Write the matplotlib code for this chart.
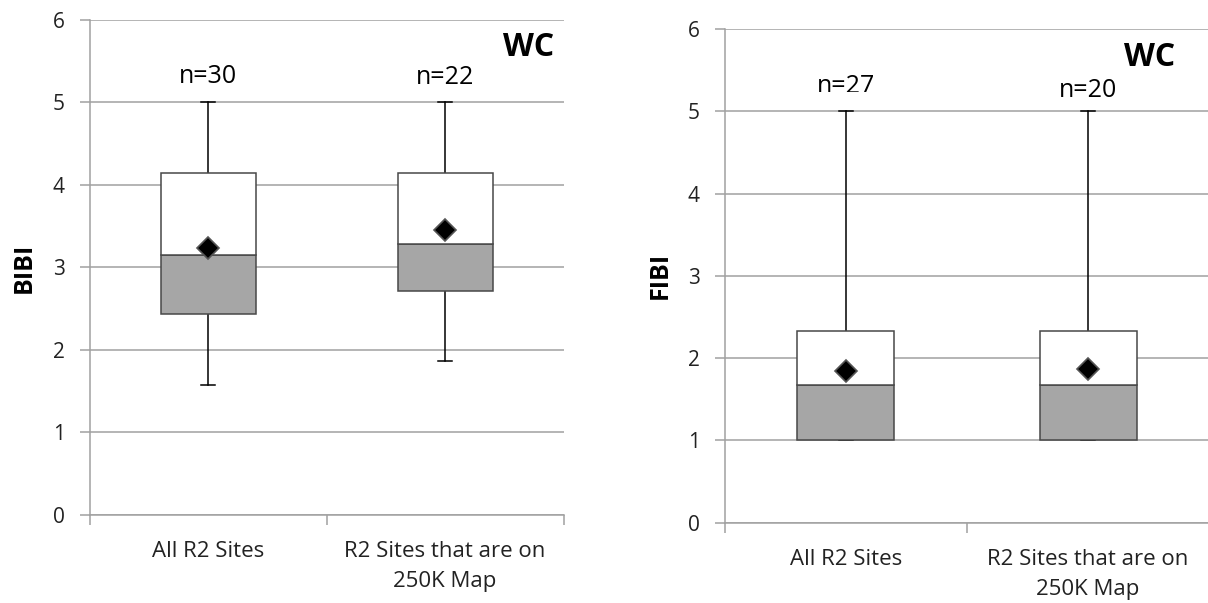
import matplotlib.pyplot as plt
from matplotlib.ticker import FixedLocator
from matplotlib.transforms import Bbox, TransformedBbox

plt.rcParams['font.family'] = ['Open Sans', 'DejaVu Sans']

categories = ['All R2 Sites', 'R2 Sites that are on\n250K Map']

# BIBI summary statistics per group
bibi_min = [1.57, 1.87]
bibi_q1 = [2.43, 2.72]
bibi_med = [3.15, 3.29]
bibi_q3 = [4.15, 4.15]
bibi_max = [5.0, 5.0]
bibi_mean = [3.23, 3.45]
bibi_n = ['n=30', 'n=22']

# FIBI summary statistics per group
fibi_min = [1.0, 1.0]
fibi_q1 = [1.0, 1.0]
fibi_med = [1.67, 1.67]
fibi_q3 = [2.33, 2.33]
fibi_max = [5.0, 5.0]
fibi_mean = [1.85, 1.87]
fibi_n = ['n=27', 'n=20']

GRID = '#a0a0a0'


def draw_panel(ax, ylabel, vmin, q1, med, q3, vmax, mean, ns, n_y, wc_xy, label_x):
    x = [1, 2]
    width = 0.4
    ax.set_ylim(0, 6)
    ax.set_xlim(0.5, 2.5)
    ax.set_yticks(range(0, 7))
    ax.yaxis.grid(True, color=GRID, lw=1.1)
    ax.set_axisbelow(True)

    # lower half of box (q1 -> median) and upper half (median -> q3)
    ax.bar(x, [m - a for m, a in zip(med, q1)], bottom=q1, width=width,
           color='#a6a6a6', edgecolor='#484848', lw=1.1, zorder=3)
    ax.bar(x, [b - m for b, m in zip(q3, med)], bottom=med, width=width,
           color='white', edgecolor='#484848', lw=1.1, zorder=3)

    # whiskers with caps
    for xi, lo, a, b, hi in zip(x, vmin, q1, q3, vmax):
        ax.plot([xi, xi], [b, hi], color='black', lw=1.1, zorder=2)
        ax.plot([xi, xi], [lo, a], color='black', lw=1.1, zorder=2)
        ax.plot([xi - 0.03, xi + 0.03], [hi, hi], color='black', lw=1.1, zorder=2)
        ax.plot([xi - 0.03, xi + 0.03], [lo, lo], color='black', lw=1.1, zorder=2)

    # mean marker
    ax.plot(x, mean, linestyle='none', marker='D', markersize=11.5,
            color='black', markeredgecolor='#555555', markeredgewidth=1.2, zorder=4)

    texts = []
    for xi, label, yi in zip(x, ns, n_y):
        texts.append(ax.text(xi, yi, label, ha='center', va='center', fontsize=18))
    ax.text(wc_xy[0], wc_xy[1], 'WC', ha='right', va='center', fontsize=23,
            fontweight='bold')

    ax.set_ylabel(ylabel, fontsize=18, fontweight='bold')
    ax.yaxis.set_label_coords(label_x, 0.5)

    for side in ['top', 'right']:
        ax.spines[side].set_visible(False)
    ax.spines['left'].set_color(GRID)
    ax.spines['bottom'].set_color(GRID)
    ax.spines['left'].set_linewidth(1.1)
    ax.spines['bottom'].set_linewidth(1.1)

    ax.set_xticks(x)
    ax.set_xticklabels(categories, fontsize=16, color='#222222', linespacing=1.55)
    ax.tick_params(axis='x', which='major', length=0, pad=19)
    ax.xaxis.set_minor_locator(FixedLocator([0.5, 1.5, 2.5]))
    ax.tick_params(axis='x', which='minor', length=7, color=GRID, width=1.1)
    ax.tick_params(axis='y', length=7, color=GRID, width=1.1,
                   labelsize=15, labelcolor='#222222', pad=11)
    return texts


fig = plt.figure(figsize=(12.08, 6.03), dpi=100)
ax1 = fig.add_axes([0.0745, 0.146, 0.392, 0.821])
ax2 = fig.add_axes([0.600, 0.133, 0.401, 0.819])

draw_panel(ax1, 'BIBI', bibi_min, bibi_q1, bibi_med, bibi_q3, bibi_max,
           bibi_mean, bibi_n, [5.32, 5.30], (2.46, 5.67), -0.112)
fibi_texts = draw_panel(ax2, 'FIBI', fibi_min, fibi_q1, fibi_med, fibi_q3, fibi_max,
                        fibi_mean, fibi_n, [5.30, 5.25], (2.36, 5.65), -0.107)

# the first FIBI count label is cut off along its lower edge
fibi_texts[0].set_clip_box(TransformedBbox(Bbox([[0.5, 5.238], [1.5, 6.5]]), ax2.transData))
fibi_texts[0].set_clip_on(True)

fig.savefig('out.png', dpi=100)
